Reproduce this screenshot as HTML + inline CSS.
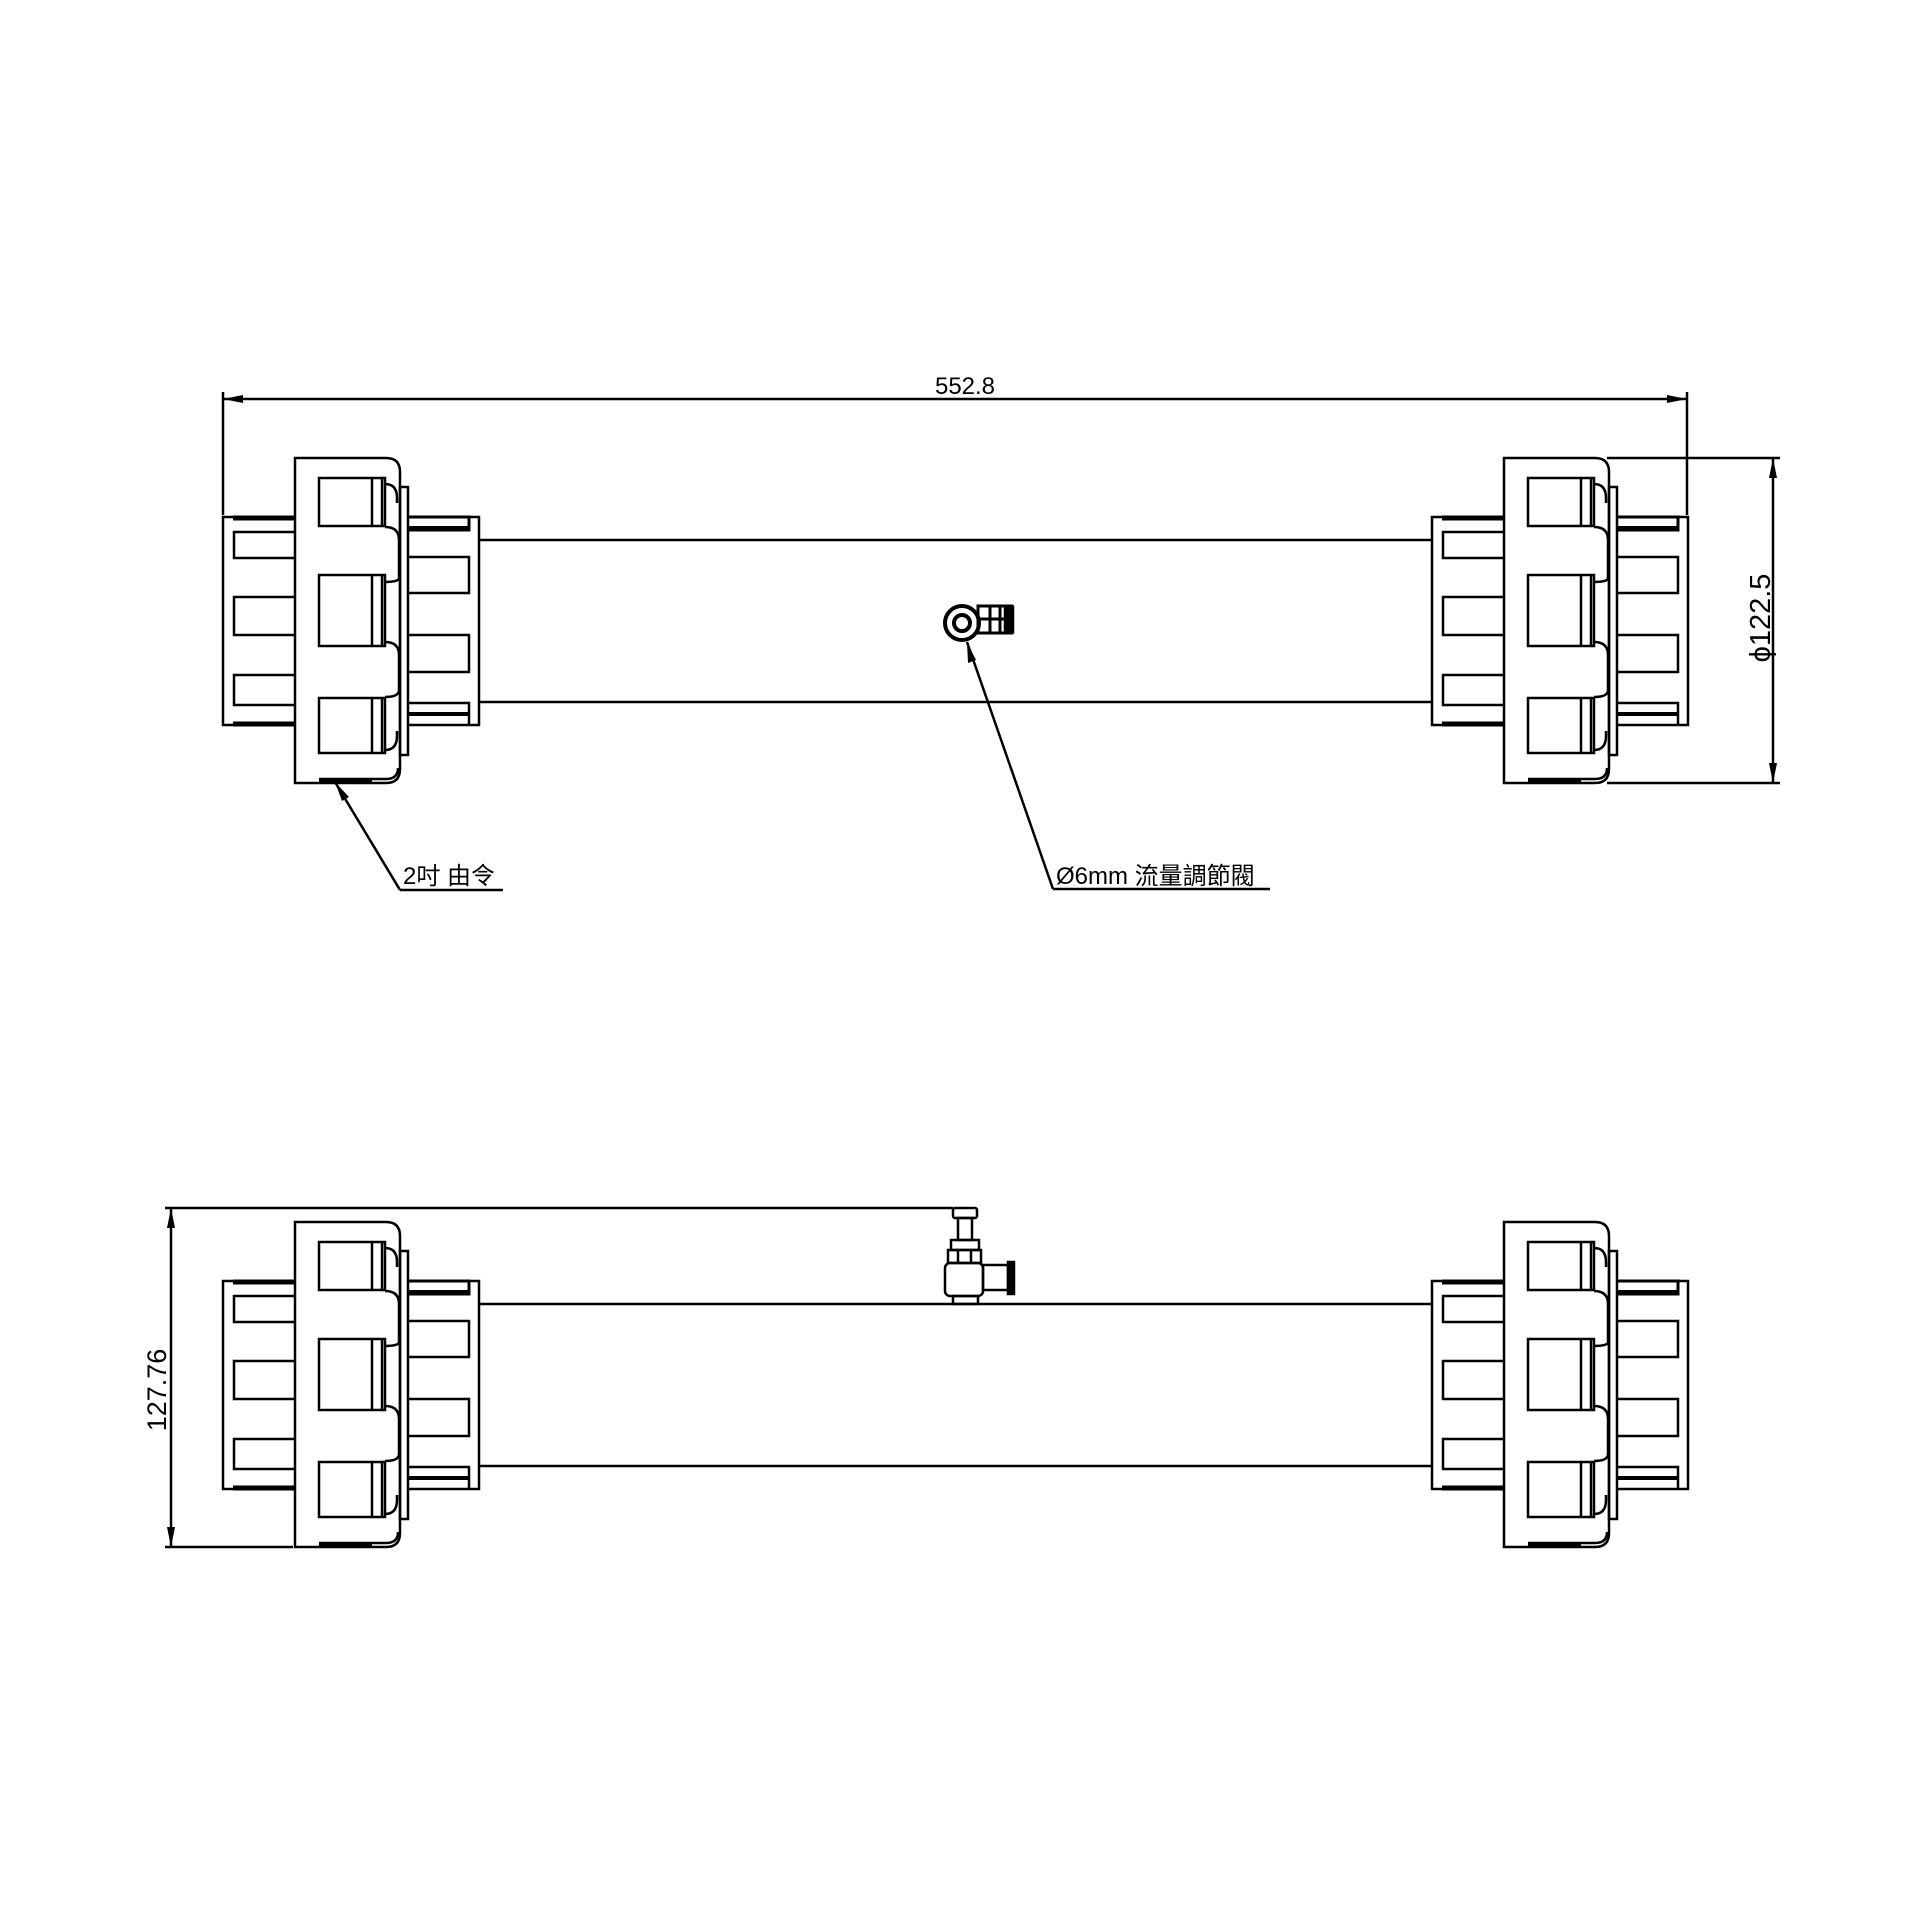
<!DOCTYPE html>
<html><head><meta charset="utf-8"><style>html,body{margin:0;padding:0;background:#fff}svg{display:block}</style></head>
<body>
<svg width="1920" height="1920" viewBox="0 0 1920 1920" xmlns="http://www.w3.org/2000/svg">
<defs>
<g id="u" fill="none" stroke="#000" stroke-width="2.5">
  <path d="M295 517 H223 V725 H295"/>
  <line x1="233" y1="518" x2="295" y2="518" stroke-width="5"/>
  <line x1="233" y1="724" x2="295" y2="724" stroke-width="5"/>
  <path d="M295 532 H234 V558 H295"/>
  <path d="M295 597 H234 V635 H295"/>
  <path d="M295 675 H234 V705 H295"/>
  <path d="M295 458 H386 Q400 458 400 472 V769 Q400 783 386 783 H295 Z"/>
  <rect x="319" y="478" width="66" height="48"/>
  <rect x="319" y="575" width="66" height="71"/>
  <rect x="319" y="698" width="66" height="55"/>
  <line x1="372" y1="478" x2="372" y2="526"/><line x1="382" y1="478" x2="382" y2="526"/>
  <line x1="372" y1="575" x2="372" y2="646"/><line x1="382" y1="575" x2="382" y2="646"/>
  <line x1="372" y1="698" x2="372" y2="753"/><line x1="382" y1="698" x2="382" y2="753"/>
  <path d="M385 484 Q397 484 397 498 V503"/>
  <path d="M385 527 Q399 527 399 540 V578 Q399 582 385 582"/>
  <path d="M385 642 Q399 642 399 655 V690 Q399 697 385 697"/>
  <path d="M385 750 Q397 750 397 736 V731"/>
  <path d="M319 779 H386 Q398 779 398 768"/>
  <line x1="319" y1="781" x2="372" y2="781" stroke-width="4"/>
  <rect x="400" y="487" width="8" height="268"/>
  <path d="M408 517 H479 V725 H408"/>
  <path d="M408 517 H469 V530 H408" stroke-width="3"/>
  <line x1="408" y1="528" x2="469" y2="528" stroke-width="4"/>
  <path d="M408 557 H469 V593 H408"/>
  <path d="M408 635 H469 V672 H408"/>
  <path d="M408 703 H469 V725"/>
  <line x1="408" y1="714" x2="469" y2="714" stroke-width="4"/>
</g>
<g id="bodyv">
  <line x1="479" y1="540" x2="1432" y2="540"/>
  <line x1="479" y1="702" x2="1432" y2="702"/>
  <use href="#u"/>
  <use href="#u" transform="translate(1209,0)"/>
</g>
</defs>
<g stroke="#000" stroke-width="2.5" fill="none">
  <use href="#bodyv"/>
  <use href="#bodyv" transform="translate(0,764)"/>

  <line x1="223" y1="392" x2="223" y2="515"/>
  <line x1="1687" y1="392" x2="1687" y2="515"/>
  <line x1="223" y1="399" x2="1687" y2="399"/>
  <line x1="1607" y1="458" x2="1780" y2="458"/>
  <line x1="1607" y1="783" x2="1780" y2="783"/>
  <line x1="1773" y1="458" x2="1773" y2="783"/>

  <line x1="165" y1="1208" x2="953" y2="1208"/>
  <line x1="165" y1="1547" x2="293" y2="1547"/>
  <line x1="171" y1="1208" x2="171" y2="1547"/>

  <circle cx="962" cy="623" r="17" stroke-width="4"/>
  <circle cx="962" cy="623" r="8" stroke-width="4"/>
  <rect x="978" y="606" width="34" height="27" stroke-width="3"/>
  <line x1="990" y1="606" x2="990" y2="633" stroke-width="3"/>
  <line x1="1000" y1="606" x2="1000" y2="633" stroke-width="3"/>
  <line x1="978" y1="619" x2="1005" y2="619" stroke-width="3"/>
  <rect x="1005" y="607" width="8" height="25" fill="#000"/>
  <line x1="967" y1="642" x2="1053" y2="889"/>
  <line x1="1053" y1="889" x2="1270" y2="889"/>
  <line x1="335" y1="782" x2="400" y2="890"/>
  <line x1="400" y1="890" x2="503" y2="890"/>

  <rect x="953" y="1208" width="24" height="10" rx="2"/>
  <rect x="958" y="1218" width="14" height="22"/>
  <rect x="951" y="1240" width="28" height="10"/>
  <rect x="948" y="1250" width="33" height="13"/>
  <line x1="958" y1="1250" x2="958" y2="1263"/><line x1="971" y1="1250" x2="971" y2="1263"/>
  <rect x="945" y="1263" width="38" height="33" rx="5"/>
  <rect x="953" y="1296" width="25" height="8"/>
  <rect x="983" y="1265" width="25" height="25"/>
  <rect x="1008" y="1262" width="6" height="32" fill="#000"/>
</g>
<g fill="#000">
  <polygon points="223,399 243,395 243,403"/>
  <polygon points="1687,399 1667,395 1667,403"/>
  <polygon points="1773,458 1769,478 1777,478"/>
  <polygon points="1773,783 1769,763 1777,763"/>
  <polygon points="171,1208 167,1228 175,1228"/>
  <polygon points="171,1547 167,1527 175,1527"/>
  <polygon points="335,782 349,797 342,801"/>
  <polygon points="967,642 976,660 968,663"/>
</g>
<g font-family="'Liberation Sans','Noto Sans CJK TC',sans-serif" font-size="24" fill="#000">
  <text x="965" y="394" text-anchor="middle">552.8</text>
  <text transform="translate(1770,618) rotate(-90)" text-anchor="middle" font-size="29">ϕ122.5</text>
  <text transform="translate(166,1390) rotate(-90)" text-anchor="middle" font-size="27">127.76</text>
  <text x="403" y="884">2吋 由令</text>
  <text x="1056" y="884">Ø6mm 流量調節閥</text>
</g>
</svg>
</body></html>
